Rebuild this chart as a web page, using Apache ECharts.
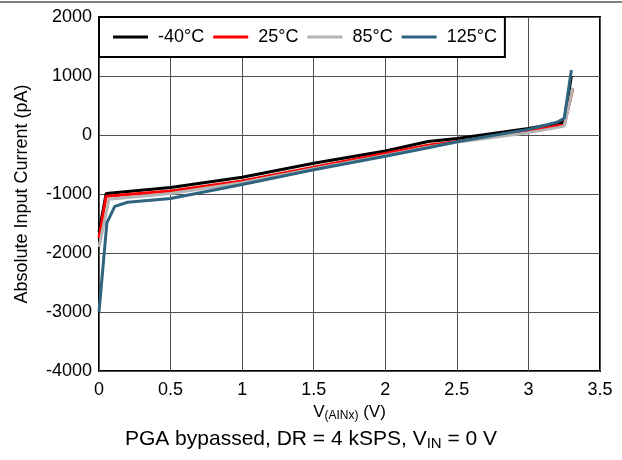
<!DOCTYPE html>
<html>
<head>
<meta charset="utf-8">
<script src="https://cdn.jsdelivr.net/npm/echarts@6/dist/echarts.min.js"></script>
<style>
  html, body { margin: 0; padding: 0; background: #fff; }
  #chart { width: 622px; height: 460px; }
</style>
</head>
<body>
<div id="chart"></div>
<script>
// Absolute input current vs. input voltage at four temperatures
const seriesNames = ['-40°C', '25°C', '85°C', '125°C'];
const seriesColors = ['#000000', '#ff0000', '#b4b4b4', '#2f6480'];

// [V(AINx) in V, current in pA]
const tMinus40 = [[0, -1650], [0.05, -990], [0.5, -890], [1.0, -715], [1.5, -480], [2.0, -270], [2.3, -110], [2.5, -60], [3.0, 110], [3.2, 195], [3.25, 220], [3.3, 1000]];
const t25 = [[0, -1750], [0.05, -1040], [0.5, -950], [1.0, -780], [1.5, -545], [2.0, -315], [2.3, -175], [2.5, -110], [3.0, 60], [3.2, 155], [3.25, 165], [3.31, 780]];
const t85 = [[0, -1900], [0.07, -1090], [0.5, -990], [1.0, -810], [1.5, -570], [2.0, -345], [2.3, -205], [2.5, -125], [3.0, 40], [3.2, 125], [3.25, 150], [3.31, 800]];
const t125 = [[0, -3000], [0.055, -1490], [0.11, -1210], [0.2, -1140], [0.5, -1075], [1.0, -840], [1.5, -590], [2.0, -360], [2.3, -215], [2.5, -115], [3.0, 95], [3.2, 215], [3.25, 285], [3.3, 1100]];

const xTicks = { min: 0, max: 3.5, interval: 0.5 };
const yTicks = { min: -4000, max: 2000, interval: 1000 };

const font = 'Liberation Sans, Arial, sans-serif';
const allData = [tMinus40, t25, t85, t125];

const chart = echarts.init(document.getElementById('chart'), null, { renderer: 'canvas' });
chart.setOption({
  backgroundColor: '#fff',
  animation: false,
  grid: {
    left: 99, right: 22, top: 17, bottom: 89,
    show: true, borderColor: '#000', borderWidth: 2, backgroundColor: 'transparent'
  },
  legend: {
    left: 99, top: 17,
    data: seriesNames,
    orient: 'horizontal',
    backgroundColor: '#fff',
    borderColor: '#000',
    borderWidth: 2,
    borderRadius: 0,
    padding: [11, 8, 11, 14],
    itemWidth: 35,
    itemHeight: 3,
    itemGap: 9,
    icon: 'rect',
    textStyle: { fontFamily: font, fontSize: 18, color: '#000', padding: [0, 0, 0, 5] }
  },
  xAxis: {
    type: 'value',
    min: xTicks.min, max: xTicks.max, interval: xTicks.interval,
    name: '{a|V}{s|(AINx)}{a| (V)}',
    nameLocation: 'middle',
    nameGap: 27,
    nameTextStyle: {
      rich: {
        a: { fontFamily: font, fontSize: 17, color: '#000' },
        s: { fontFamily: font, fontSize: 12, color: '#000', verticalAlign: 'bottom', padding: [7, 0, 0, 0] }
      }
    },
    axisLine: { show: false },
    axisTick: { show: false },
    axisLabel: { fontFamily: font, fontSize: 18, color: '#000', margin: 10 },
    splitLine: { show: true, lineStyle: { color: '#505050', width: 1 } }
  },
  yAxis: {
    type: 'value',
    min: yTicks.min, max: yTicks.max, interval: yTicks.interval,
    name: 'Absolute Input Current (pA)',
    nameLocation: 'middle',
    nameGap: 68,
    nameTextStyle: { fontFamily: font, fontSize: 18, color: '#000' },
    axisLine: { show: false },
    axisTick: { show: false },
    axisLabel: { fontFamily: font, fontSize: 18, color: '#000', margin: 7, formatter: v => String(v) },
    splitLine: { show: true, lineStyle: { color: '#505050', width: 1 } }
  },
  series: seriesNames.map((name, i) => ({
    name: name,
    type: 'line',
    data: allData[i],
    showSymbol: false,
    symbol: 'none',
    lineStyle: { color: seriesColors[i], width: 3 },
    itemStyle: { color: seriesColors[i] },
    z: 2 + i
  })),
  graphic: [
    {
      type: 'line',
      shape: { x1: 0, y1: 2, x2: 622, y2: 2 },
      style: { stroke: '#000', lineWidth: 1 }
    },
    {
      type: 'text',
      left: 'center',
      top: 429,
      style: {
        x: 0, y: 0,
        text: '{a|PGA bypassed, DR = 4 kSPS, V}{s|IN}{a| = 0 V}',
        rich: {
          a: { fontFamily: font, fontSize: 21, fill: '#000' },
          s: { fontFamily: font, fontSize: 15, fill: '#000', verticalAlign: 'bottom', padding: [8, 0, 0, 0] }
        }
      }
    }
  ]
});
</script>
</body>
</html>
